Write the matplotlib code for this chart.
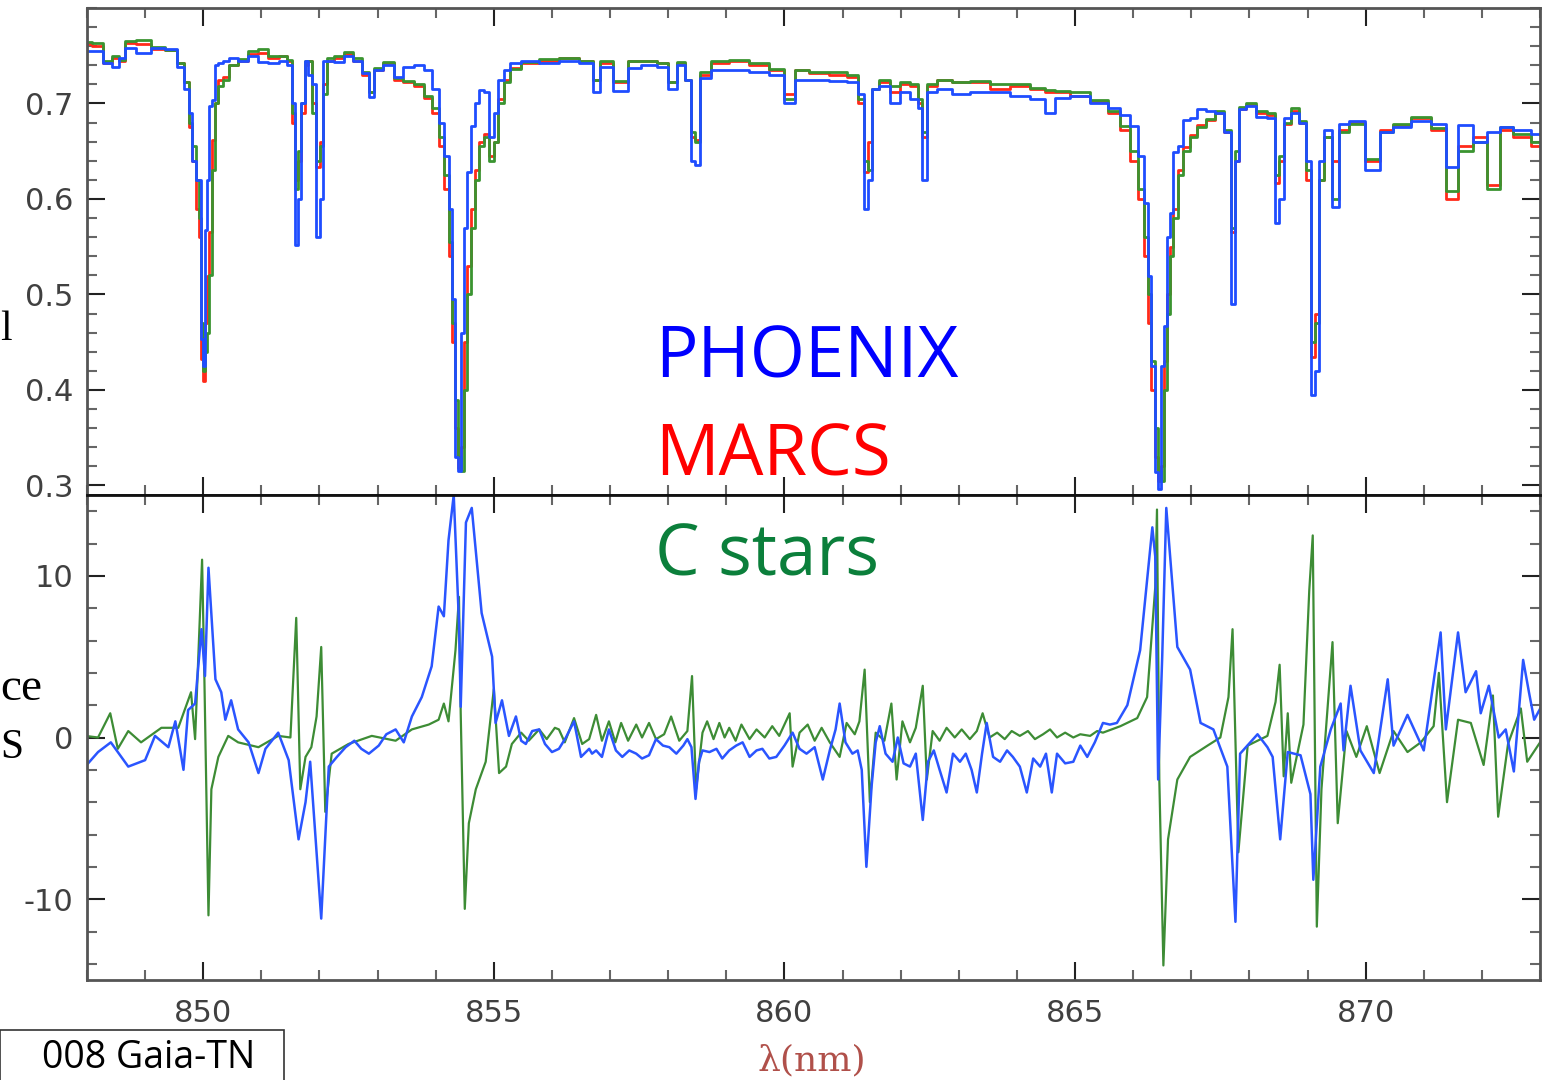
import matplotlib
matplotlib.use('Agg')
import matplotlib.pyplot as plt
from matplotlib.ticker import MultipleLocator, FixedLocator
from matplotlib.patches import Rectangle

# ---------------- data ----------------
top_wl = [847.97, 848.19, 848.36, 848.50, 848.60, 848.71, 848.97, 849.22, 849.48, 849.62,
          849.71, 849.79, 849.84, 849.90, 849.95, 849.98, 850.02, 850.05, 850.09, 850.12,
          850.17, 850.22, 850.29, 850.38, 850.52, 850.69, 850.86, 851.03, 851.21, 851.38,
          851.50, 851.55, 851.60, 851.66, 851.71, 851.78, 851.84, 851.91, 851.98, 852.03,
          852.09, 852.16, 852.33, 852.50, 852.67, 852.79, 852.90, 852.98, 853.19, 853.36,
          853.53, 853.71, 853.88, 854.00, 854.10, 854.19, 854.26, 854.31, 854.36, 854.41,
          854.47, 854.52, 854.57, 854.64, 854.71, 854.79, 854.88, 854.97, 855.03, 855.12,
          855.22, 855.34, 855.60, 855.95, 856.29, 856.64, 856.76, 856.90, 857.19, 857.41,
          857.67, 857.93, 858.07, 858.22, 858.36, 858.43, 858.50, 858.59, 858.88, 859.22,
          859.57, 859.91, 860.09, 860.26, 860.60, 860.95, 861.21, 861.33, 861.40, 861.47,
          861.55, 861.72, 861.90, 862.07, 862.24, 862.34, 862.41, 862.50, 862.76, 863.02,
          863.36, 863.71, 864.05, 864.40, 864.57, 864.74, 865.09, 865.43, 865.69, 865.86,
          866.03, 866.14, 866.22, 866.29, 866.34, 866.40, 866.45, 866.50, 866.55, 866.60,
          866.66, 866.72, 866.81, 866.91, 867.03, 867.16, 867.33, 867.50, 867.64, 867.71,
          867.78, 867.86, 868.02, 868.22, 868.40, 868.48, 868.55, 868.64, 868.79, 868.93,
          869.02, 869.09, 869.16, 869.22, 869.36, 869.48, 869.60, 869.83, 870.14, 870.34,
          870.60, 870.95, 871.29, 871.47, 871.72, 871.98, 872.21, 872.41, 872.67, 873.02]

flux_phoenix = [0.755, 0.755, 0.742, 0.738, 0.748, 0.758, 0.753, 0.758, 0.757, 0.738,
                0.715, 0.690, 0.640, 0.620, 0.620, 0.453, 0.425, 0.568, 0.620, 0.697,
                0.704, 0.740, 0.742, 0.745, 0.748, 0.745, 0.750, 0.743, 0.742, 0.745,
                0.740, 0.700, 0.552, 0.600, 0.700, 0.744, 0.730, 0.720, 0.560, 0.600,
                0.745, 0.745, 0.743, 0.750, 0.745, 0.732, 0.707, 0.735, 0.740, 0.728,
                0.738, 0.740, 0.735, 0.715, 0.680, 0.645, 0.590, 0.495, 0.330, 0.315,
                0.460, 0.570, 0.628, 0.676, 0.700, 0.714, 0.712, 0.665, 0.690, 0.725,
                0.735, 0.742, 0.745, 0.742, 0.744, 0.742, 0.712, 0.738, 0.713, 0.737,
                0.740, 0.738, 0.715, 0.740, 0.725, 0.640, 0.636, 0.727, 0.735, 0.735,
                0.733, 0.730, 0.700, 0.725, 0.725, 0.724, 0.722, 0.710, 0.590, 0.620,
                0.715, 0.718, 0.700, 0.712, 0.705, 0.695, 0.620, 0.712, 0.715, 0.710,
                0.712, 0.712, 0.708, 0.705, 0.690, 0.706, 0.708, 0.700, 0.695, 0.688,
                0.676, 0.645, 0.596, 0.519, 0.425, 0.314, 0.296, 0.425, 0.467, 0.560,
                0.585, 0.649, 0.655, 0.683, 0.685, 0.694, 0.692, 0.690, 0.670, 0.490,
                0.640, 0.694, 0.697, 0.686, 0.685, 0.575, 0.600, 0.685, 0.690, 0.680,
                0.640, 0.395, 0.420, 0.640, 0.672, 0.592, 0.678, 0.682, 0.630, 0.670,
                0.675, 0.682, 0.678, 0.634, 0.677, 0.660, 0.670, 0.675, 0.672, 0.668]

flux_marcs = [0.762, 0.760, 0.742, 0.748, 0.745, 0.763, 0.762, 0.757, 0.756, 0.742,
              0.722, 0.675, 0.640, 0.590, 0.560, 0.432, 0.409, 0.470, 0.519, 0.565,
              0.662, 0.700, 0.725, 0.728, 0.740, 0.745, 0.752, 0.753, 0.748, 0.750,
              0.745, 0.680, 0.620, 0.640, 0.690, 0.740, 0.745, 0.700, 0.634, 0.660,
              0.720, 0.745, 0.748, 0.752, 0.745, 0.730, 0.712, 0.735, 0.742, 0.725,
              0.722, 0.718, 0.706, 0.690, 0.655, 0.610, 0.540, 0.450, 0.360, 0.318,
              0.340, 0.450, 0.530, 0.590, 0.630, 0.660, 0.668, 0.645, 0.660, 0.705,
              0.725, 0.737, 0.742, 0.745, 0.748, 0.744, 0.725, 0.742, 0.722, 0.745,
              0.745, 0.742, 0.722, 0.742, 0.725, 0.665, 0.662, 0.730, 0.742, 0.745,
              0.740, 0.735, 0.710, 0.735, 0.732, 0.730, 0.728, 0.700, 0.628, 0.660,
              0.715, 0.722, 0.712, 0.720, 0.718, 0.700, 0.665, 0.718, 0.725, 0.722,
              0.722, 0.715, 0.718, 0.715, 0.712, 0.712, 0.708, 0.702, 0.690, 0.672,
              0.640, 0.600, 0.540, 0.470, 0.400, 0.330, 0.305, 0.320, 0.430, 0.500,
              0.550, 0.590, 0.630, 0.654, 0.667, 0.677, 0.683, 0.690, 0.670, 0.565,
              0.640, 0.694, 0.698, 0.690, 0.688, 0.617, 0.640, 0.678, 0.692, 0.680,
              0.620, 0.435, 0.480, 0.620, 0.665, 0.640, 0.672, 0.680, 0.640, 0.672,
              0.677, 0.685, 0.672, 0.600, 0.655, 0.665, 0.615, 0.672, 0.665, 0.656]

flux_cstars = [0.764, 0.763, 0.744, 0.750, 0.746, 0.765, 0.766, 0.759, 0.756, 0.742,
               0.722, 0.680, 0.655, 0.620, 0.580, 0.470, 0.420, 0.440, 0.460, 0.520,
               0.630, 0.700, 0.718, 0.725, 0.740, 0.747, 0.755, 0.757, 0.750, 0.750,
               0.746, 0.690, 0.610, 0.650, 0.700, 0.745, 0.745, 0.690, 0.640, 0.655,
               0.710, 0.748, 0.750, 0.754, 0.748, 0.733, 0.712, 0.737, 0.743, 0.727,
               0.724, 0.720, 0.708, 0.695, 0.665, 0.625, 0.555, 0.470, 0.390, 0.330,
               0.315, 0.400, 0.500, 0.570, 0.620, 0.655, 0.665, 0.640, 0.660, 0.700,
               0.722, 0.736, 0.743, 0.747, 0.748, 0.745, 0.725, 0.744, 0.724, 0.744,
               0.745, 0.742, 0.722, 0.743, 0.725, 0.670, 0.660, 0.733, 0.745, 0.746,
               0.742, 0.736, 0.705, 0.735, 0.733, 0.733, 0.730, 0.705, 0.640, 0.630,
               0.715, 0.725, 0.718, 0.722, 0.720, 0.705, 0.670, 0.720, 0.725, 0.722,
               0.724, 0.720, 0.720, 0.716, 0.714, 0.713, 0.712, 0.704, 0.692, 0.676,
               0.650, 0.610, 0.560, 0.500, 0.430, 0.360, 0.315, 0.305, 0.400, 0.480,
               0.540, 0.580, 0.625, 0.650, 0.665, 0.675, 0.684, 0.692, 0.672, 0.570,
               0.650, 0.696, 0.700, 0.692, 0.690, 0.625, 0.645, 0.680, 0.695, 0.682,
               0.630, 0.450, 0.470, 0.620, 0.665, 0.600, 0.670, 0.678, 0.642, 0.670,
               0.678, 0.686, 0.674, 0.608, 0.650, 0.660, 0.610, 0.675, 0.668, 0.660]

# difference spectra: (wavelength nm, difference)
diff_phoenix_pts = [
    (847.97, -1.8), (848.19, -0.9), (848.41, -0.3), (848.71, -1.8), (849.00, -1.4),
    (849.17, 0.1), (849.40, -0.6), (849.52, 1.0), (849.66, -2.0), (849.74, 1.7),
    (849.86, 2.1), (849.97, 6.7), (850.03, 3.8), (850.09, 10.5), (850.21, 3.6),
    (850.31, 2.8), (850.38, 1.1), (850.48, 2.3), (850.60, 0.5), (850.78, -0.3),
    (850.95, -2.2), (851.07, -0.7), (851.29, 0.3), (851.47, -1.4), (851.64, -6.3),
    (851.76, -4.0), (851.84, -1.5), (852.03, -11.2), (852.16, -1.8), (852.30, -1.2),
    (852.45, -0.6), (852.60, -0.2), (852.72, -0.7), (852.85, -1.0), (853.02, -0.5),
    (853.15, 0.2), (853.31, 0.5), (853.45, -0.3), (853.59, 1.3), (853.76, 2.5),
    (853.93, 4.4), (854.05, 8.1), (854.14, 7.5), (854.22, 12.2), (854.31, 15.0),
    (854.40, 7.1), (854.43, 1.9), (854.52, 13.3), (854.62, 14.2), (854.79, 7.7),
    (854.97, 5.0), (855.03, 0.9), (855.14, 2.3), (855.26, 0.1), (855.38, 1.3),
    (855.47, -0.2), (855.55, -0.4), (855.66, 0.4), (855.78, 0.5), (855.88, -0.4),
    (856.00, -0.9), (856.12, -0.7), (856.24, 0.0), (856.38, 1.0), (856.50, -1.2),
    (856.64, -0.7), (856.69, -1.0), (856.76, -0.8), (856.86, -1.2), (856.98, 0.5),
    (857.10, -0.8), (857.21, -1.2), (857.33, -0.8), (857.45, -1.0), (857.55, -1.3),
    (857.67, -1.1), (857.79, -0.1), (857.91, -0.5), (858.02, -0.6), (858.14, -1.0),
    (858.26, -0.5), (858.33, -0.1), (858.40, -0.6), (858.47, -3.8), (858.53, -1.5),
    (858.59, -0.8), (858.71, -0.9), (858.83, -0.7), (858.93, -1.3), (859.05, -0.8),
    (859.17, -0.5), (859.28, -0.3), (859.40, -1.2), (859.52, -0.8), (859.62, -0.7),
    (859.74, -1.3), (859.86, -1.2), (860.00, -0.5), (860.14, 0.3), (860.26, -0.7),
    (860.38, -1.0), (860.52, -0.6), (860.66, -2.6), (860.78, -0.8), (860.88, 0.5),
    (860.95, 2.1), (861.05, -0.3), (861.17, -1.0), (861.26, -0.8), (861.33, -2.0),
    (861.41, -8.0), (861.50, -3.0), (861.57, -0.3), (861.64, 0.7), (861.74, -1.0),
    (861.86, -1.5), (861.95, 0.0), (862.05, -1.6), (862.16, -1.8), (862.26, -1.0),
    (862.38, -5.1), (862.47, -1.5), (862.57, -0.8), (862.67, -2.0), (862.79, -3.4),
    (862.90, -1.0), (863.02, -1.5), (863.12, -1.0), (863.22, -2.0), (863.31, -3.4),
    (863.40, -1.0), (863.48, 0.9), (863.59, -1.2), (863.71, -1.5), (863.83, -0.8),
    (863.93, -1.2), (864.05, -1.8), (864.17, -3.4), (864.28, -1.3), (864.40, -1.8),
    (864.50, -1.0), (864.60, -3.4), (864.69, -1.0), (864.83, -1.6), (864.97, -1.5),
    (865.09, -0.5), (865.21, -1.2), (865.34, -0.3), (865.48, 0.9), (865.60, 0.8),
    (865.72, 0.9), (865.90, 2.0), (866.12, 5.4), (866.33, 13.0), (866.38, 11.2),
    (866.43, -2.6), (866.50, 5.0), (866.57, 14.2), (866.76, 5.6), (866.98, 4.2),
    (867.16, 0.9), (867.38, 0.5), (867.62, -1.8), (867.76, -11.4), (867.84, -1.0),
    (868.14, 0.2), (868.31, -0.6), (868.40, -1.2), (868.53, -6.3), (868.66, -0.9),
    (868.88, -1.1), (869.05, -3.5), (869.10, -8.8), (869.22, -1.8), (869.40, 0.5),
    (869.57, 2.1), (869.62, -0.8), (869.74, 3.2), (869.91, -0.8), (870.14, -2.2),
    (870.38, 3.6), (870.48, -0.5), (870.72, 1.4), (871.00, -0.8), (871.29, 6.5),
    (871.38, 0.5), (871.59, 6.5), (871.72, 2.8), (871.90, 4.1), (871.98, 1.5),
    (872.12, 3.2), (872.29, 0.0), (872.41, 0.5), (872.55, -2.1), (872.71, 4.8),
    (872.81, 2.8), (872.90, 1.1), (873.02, 1.9)]

diff_cstars_pts = [
    (847.97, 0.1), (848.19, 0.0), (848.40, 1.5), (848.53, -0.7), (848.71, 0.4),
    (848.93, -0.3), (849.28, 0.6), (849.57, 0.6), (849.79, 2.8), (849.86, -0.1),
    (849.98, 11.0), (850.02, 3.6), (850.09, -11.0), (850.14, -3.2), (850.26, -1.2),
    (850.43, 0.1), (850.60, -0.3), (850.95, -0.6), (851.29, 0.1), (851.50, 0.0),
    (851.60, 7.4), (851.67, -3.2), (851.76, -1.2), (851.86, -0.6), (851.95, 1.3),
    (852.03, 5.6), (852.10, -4.6), (852.21, -1.0), (852.50, -0.4), (852.90, 0.1),
    (853.31, -0.2), (853.59, 0.5), (853.88, 0.8), (854.05, 1.1), (854.14, 2.1),
    (854.22, 1.0), (854.34, 5.4), (854.40, 8.7), (854.43, 1.5), (854.50, -10.6),
    (854.57, -5.3), (854.69, -3.2), (854.86, -1.5), (855.00, 3.0), (855.09, -2.2),
    (855.21, -1.8), (855.31, -0.4), (855.47, 0.3), (855.60, -0.2), (855.78, 0.5),
    (855.91, -0.1), (856.05, 0.6), (856.12, 0.5), (856.22, -0.3), (856.38, 1.2),
    (856.52, -0.4), (856.64, -0.1), (856.76, 1.4), (856.86, -0.2), (856.98, 1.0),
    (857.09, -0.3), (857.19, 0.9), (857.31, -0.2), (857.45, 0.8), (857.55, 0.0),
    (857.67, 0.9), (857.79, -0.1), (857.93, 0.2), (858.05, 1.3), (858.19, -0.2),
    (858.33, 0.4), (858.41, 3.8), (858.48, -3.2), (858.59, 0.3), (858.67, 1.0),
    (858.78, -0.1), (858.88, 0.9), (858.97, 0.0), (859.05, 0.6), (859.16, -0.2),
    (859.26, 0.8), (859.40, -0.1), (859.52, 0.5), (859.66, 0.0), (859.79, 0.7),
    (859.91, 0.1), (860.09, 1.5), (860.14, -1.8), (860.26, 0.3), (860.40, 0.8),
    (860.52, -0.2), (860.64, 0.6), (860.78, -0.3), (860.95, -1.2), (861.07, 0.9),
    (861.21, 0.2), (861.29, 1.0), (861.38, 4.2), (861.47, -4.0), (861.57, 0.3),
    (861.72, -0.2), (861.84, 2.1), (861.93, -2.6), (862.03, 1.0), (862.16, -0.3),
    (862.26, 0.6), (862.38, 3.2), (862.45, -2.6), (862.55, 0.4), (862.67, -0.2),
    (862.79, 0.6), (862.93, 0.0), (863.05, 0.5), (863.19, -0.1), (863.31, 0.4),
    (863.41, 1.5), (863.53, 0.0), (863.66, 0.3), (863.79, -0.1), (863.91, 0.4),
    (864.05, 0.1), (864.19, 0.4), (864.31, -0.1), (864.45, 0.2), (864.57, 0.5),
    (864.69, 0.0), (864.83, 0.3), (864.97, 0.0), (865.09, 0.2), (865.26, 0.1),
    (865.38, 0.4), (865.48, 0.3), (865.78, 0.7), (866.07, 1.2), (866.24, 2.5),
    (866.38, 9.3), (866.41, 14.1), (866.45, -2.6), (866.52, -14.1), (866.60, -6.3),
    (866.76, -2.6), (866.98, -1.2), (867.28, -0.5), (867.50, 0.0), (867.64, 2.5),
    (867.71, 6.7), (867.81, -7.1), (867.97, -0.5), (868.31, 0.1), (868.45, 2.2),
    (868.52, 4.5), (868.59, -2.4), (868.66, 1.5), (868.72, -2.8), (868.93, 0.8),
    (869.03, 9.1), (869.09, 12.5), (869.16, -11.7), (869.24, -3.2), (869.43, 5.9),
    (869.52, -5.3), (869.67, 0.4), (869.84, -1.2), (870.02, 0.7), (870.24, -2.2),
    (870.48, 0.4), (870.72, -0.9), (870.95, -0.3), (871.17, 0.7), (871.26, 4.0),
    (871.40, -4.0), (871.59, 1.1), (871.81, 0.9), (872.03, -1.7), (872.19, 2.6),
    (872.28, -4.9), (872.45, -0.4), (872.67, 1.8), (872.78, -1.5), (873.02, -0.2)]

top_yticks = [0.3, 0.4, 0.5, 0.6, 0.7]
bottom_yticks = [-10, 0, 10]
xticks = [850, 855, 860, 865, 870]

diff_wl_phoenix = [p[0] for p in diff_phoenix_pts]
diff_phoenix = [p[1] for p in diff_phoenix_pts]
diff_wl_cstars = [p[0] for p in diff_cstars_pts]
diff_cstars = [p[1] for p in diff_cstars_pts]

# ---------------- figure ----------------
W, H = 1548, 1080
fig = plt.figure(figsize=(W / 100, H / 100), dpi=100)
ax1 = fig.add_axes([87 / W, 1 - 495 / H, (1540 - 87) / W, (495 - 8) / H])
ax2 = fig.add_axes([87 / W, 1 - 980 / H, (1540 - 87) / W, (980 - 495) / H])

c_blue = '#1f4dff'
c_red = '#ff2a1a'
c_green = '#3a9430'

ax1.step(top_wl, flux_marcs, where='mid', color=c_red, lw=2.0)
ax1.step(top_wl, flux_cstars, where='mid', color=c_green, lw=2.0)
ax1.step(top_wl, flux_phoenix, where='mid', color=c_blue, lw=2.0)

ax2.plot(diff_wl_cstars, diff_cstars, color='#3d8c35', lw=1.6)
ax2.plot(diff_wl_phoenix, diff_phoenix, color='#2a55ff', lw=1.8)

for ax in (ax1, ax2):
    ax.set_xlim(848.0, 873.0)
    ax.xaxis.set_major_locator(FixedLocator(xticks))
    ax.xaxis.set_minor_locator(MultipleLocator(1))
    ax.tick_params(which='both', direction='in', top=True, right=True,
                   labelsize=22, labelcolor='#404040', pad=10)
    ax.tick_params(which='major', length=13, width=1.5, color='#222222')
    ax.tick_params(which='minor', length=7, width=1.5, color='#666666')
    for sp in ax.spines.values():
        sp.set_color('#555555')
        sp.set_linewidth(2)

ax1.set_ylim(0.29, 0.80)
ax1.yaxis.set_major_locator(FixedLocator(top_yticks))
ax1.yaxis.set_minor_locator(MultipleLocator(0.02))
ax1.set_yticklabels(['0.3', '0.4', '0.5', '0.6', '0.7'])
ax1.tick_params(labelbottom=False)
ax1.spines['bottom'].set_color('#111111')

ax2.set_ylim(-15, 15)
ax2.yaxis.set_major_locator(FixedLocator(bottom_yticks))
ax2.yaxis.set_minor_locator(MultipleLocator(2))
ax2.set_yticklabels(['-10', '0', '10'])
ax2.set_xticklabels([str(v) for v in xticks])
ax2.tick_params(axis='x', pad=14)
ax2.spines['top'].set_color('#111111')

# x label
fig.text(812 / W, 1 - 1060 / H, 'λ(nm)', ha='center', va='center',
         fontsize=26, color='#b0504a', family='DejaVu Serif')

# legend-like annotations
fig.text(655 / W, 1 - 378 / H, 'PHOENIX', color='#0000ff', fontsize=51,
         family='Open Sans', ha='left', va='baseline')
fig.text(655 / W, 1 - 476 / H, 'MARCS', color='#ff0000', fontsize=51,
         family='Open Sans', ha='left', va='baseline')
fig.text(655 / W, 1 - 575 / H, 'C stars', color='#0b7f3b', fontsize=51,
         family='Open Sans', ha='left', va='baseline')

# fragments of side labels visible at the left edge
fig.text(0.5 / W, 1 - 340 / H, 'l', ha='left', va='baseline',
         fontsize=30, family='Liberation Serif', color='black')
fig.text(0.5 / W, 1 - 700 / H, 'ce', ha='left', va='baseline',
         fontsize=34, family='Liberation Serif', color='black')
fig.text(0.5 / W, 1 - 758 / H, 'S', ha='left', va='baseline',
         fontsize=30, family='Liberation Serif', color='black')

# reference box bottom-left
fig.patches.append(Rectangle((0, -0.02), 284 / W, (1080 - 1030) / H + 0.02,
                             transform=fig.transFigure, fill=False,
                             edgecolor='#333333', lw=1.2))
fig.text(255 / W, 1 - 1068 / H, '008 Gaia-TN', ha='right', va='baseline',
         fontsize=27, family='Open Sans', color='black')

fig.savefig('out.png', dpi=100)
